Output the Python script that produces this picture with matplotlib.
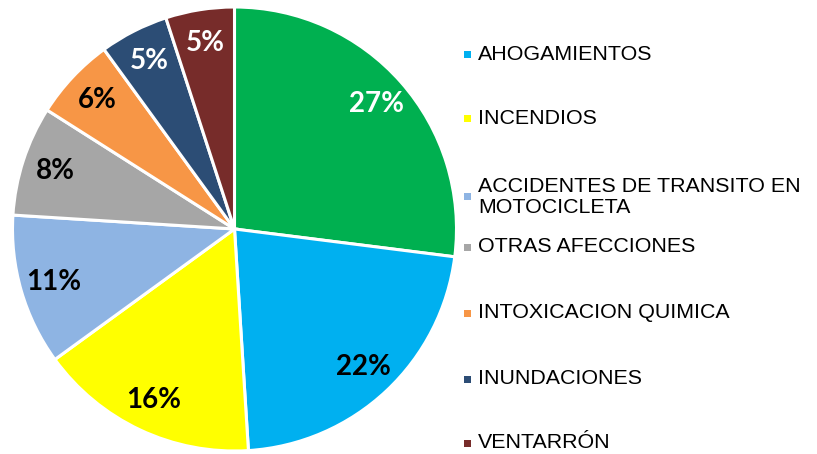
import matplotlib
matplotlib.use("Agg")
import matplotlib.pyplot as plt

# slice order: clockwise from 12 o'clock
categories = ["HOMICIDIOS", "AHOGAMIENTOS", "INCENDIOS",
              "ACCIDENTES DE TRANSITO EN\nMOTOCICLETA", "OTRAS AFECCIONES",
              "INTOXICACION QUIMICA", "INUNDACIONES", "VENTARRÓN"]
shares = [27, 22, 16, 11, 8, 6, 5, 5]
colors = ["#00B050", "#00B0F0", "#FFFF00", "#8EB4E3",
          "#A6A6A6", "#F79646", "#2C4D75", "#772C2A"]
label_colors = ["white", "black", "black", "black",
                "black", "black", "white", "white"]

fig = plt.figure(figsize=(8.17, 4.54), dpi=100)
ax = fig.add_axes([12/817, 3/454, 445/817, 444/454])

wedges, texts, autotexts = ax.pie(
    shares, colors=colors, startangle=90, counterclock=False,
    autopct="%d%%", pctdistance=0.85, radius=1,
    wedgeprops=dict(edgecolor="white", linewidth=2.2))
for t, c in zip(autotexts, label_colors):
    t.set_color(c)
    t.set_fontfamily("Lato")
    t.set_fontweight("bold")
    t.set_fontsize(20)
ax.set_xlim(-1, 1)
ax.set_ylim(-1, 1)
ax.set_aspect("equal")

# legend (first slice's entry is not shown in the original)
legend_y = [54, 118, 197, 247, 313, 379, 443]
for w, lab, y in zip(wedges[1:], categories[1:], legend_y):
    fy = 1 - y / 454
    fig.patches.append(plt.Rectangle((464/817, fy - 3.5/454), 7/817, 7/454,
                                     transform=fig.transFigure,
                                     facecolor=w.get_facecolor(), edgecolor="none"))
    fig.text(478/817, fy, lab, fontsize=15.4, family="Liberation Sans",
             va="center", ha="left", linespacing=1.15)

fig.savefig("out.png", dpi=100)
